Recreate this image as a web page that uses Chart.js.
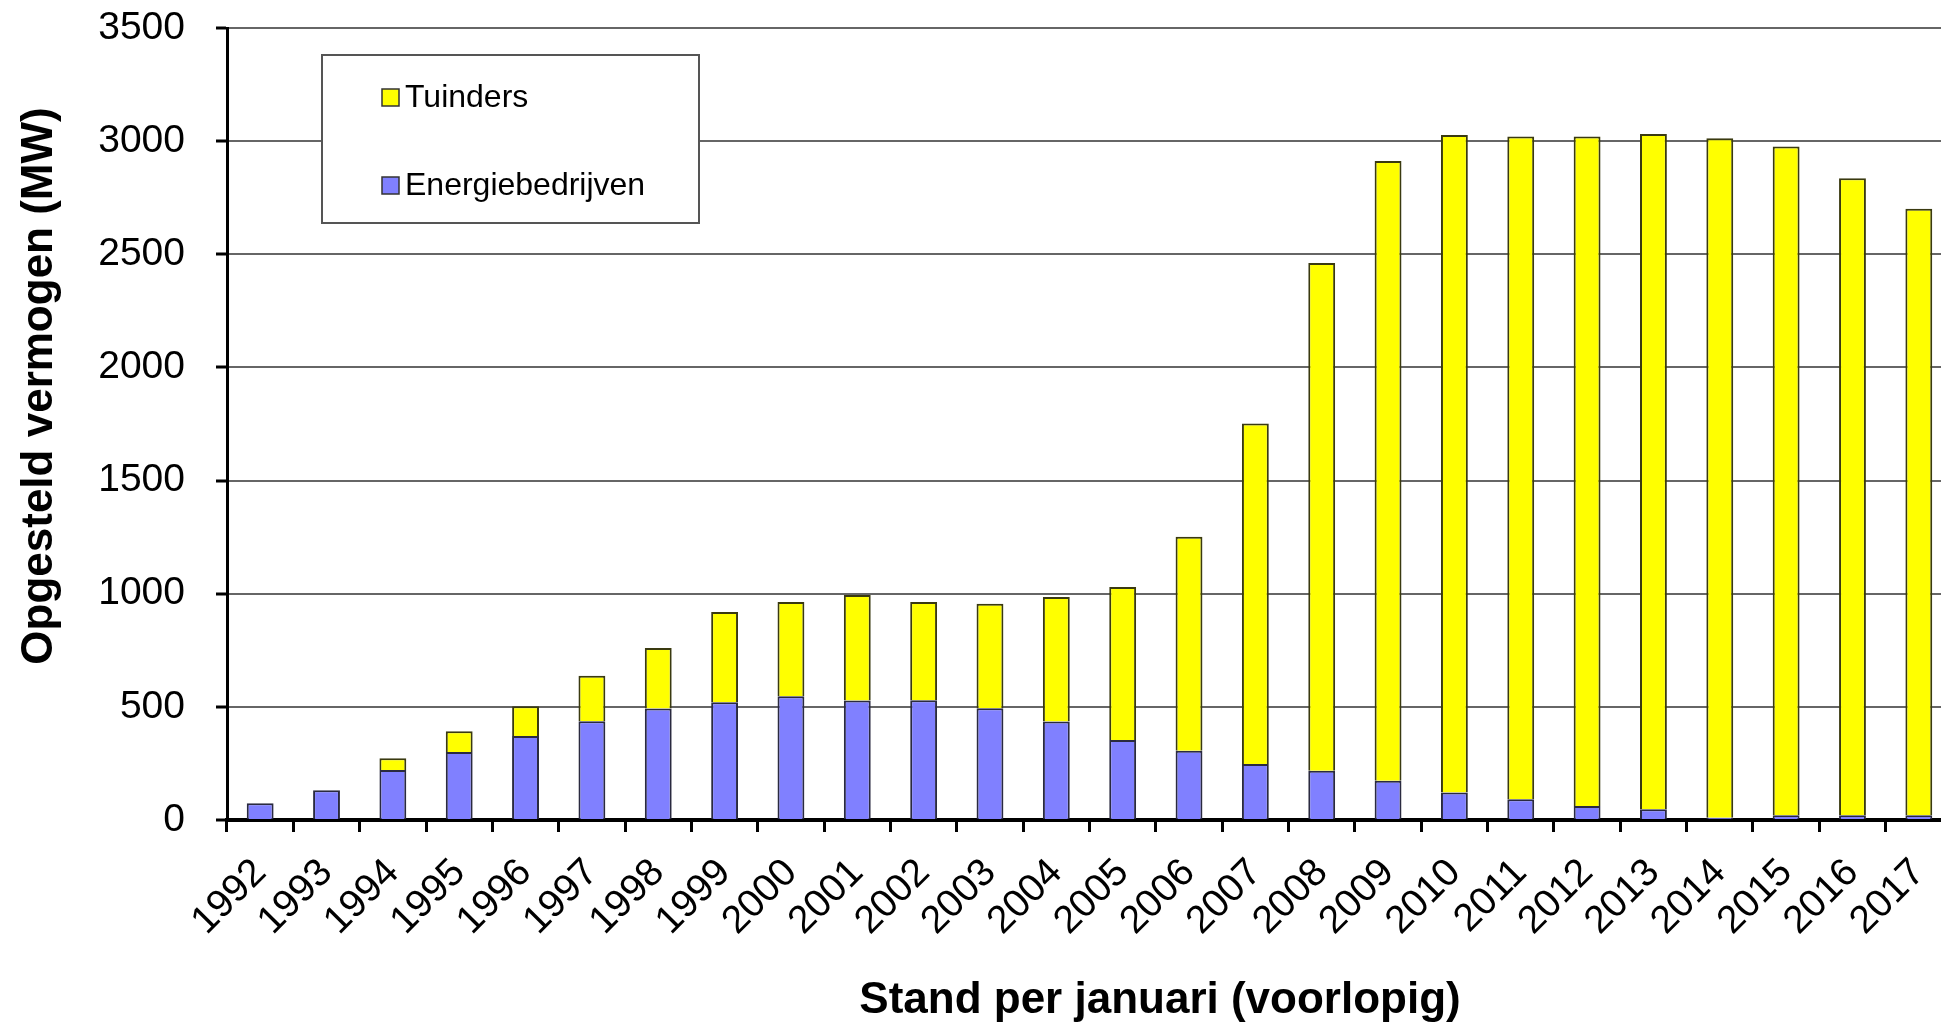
<!DOCTYPE html>
<html>
<head>
<meta charset="utf-8">
<script src="https://cdn.jsdelivr.net/npm/chart.js@4.4.1/dist/chart.umd.min.js"></script>
<style>
  html, body { margin: 0; padding: 0; background: #fff; overflow: hidden; }
  #wrap { position: absolute; left: 0; top: 0; width: 1952px; height: 1028px; }
</style>
</head>
<body>
<div id="wrap"><canvas id="chart"></canvas></div>
<script>
// stand per januari
const years = ["1992", "1993", "1994", "1995", "1996", "1997", "1998", "1999", "2000",
  "2001", "2002", "2003", "2004", "2005", "2006", "2007", "2008", "2009", "2010",
  "2011", "2012", "2013", "2014", "2015", "2016", "2017"];

// MW
const energiebedrijven = [74, 132, 221, 300, 371, 436, 493, 520, 547, 528, 529, 494, 435,
  354, 306, 248, 218, 174, 122, 92, 62, 47, 10, 21, 21, 21];
const tuinders = [0, 0, 52, 92, 132, 201, 267, 399, 416, 466, 434, 462, 550, 676, 946,
  1504, 2244, 2738, 2905, 2928, 2958, 2985, 3003, 2955, 2815, 2680];

const yTicks = [0, 500, 1000, 1500, 2000, 2500, 3000, 3500];

const yTitle = "Opgesteld vermogen (MW)";
const xTitle = "Stand per januari (voorlopig)";

const FONT = "'Liberation Sans', Arial, sans-serif";

// legend box inside the plot, Tuinders on top
const legendBox = {
  id: "legendBox",
  afterDraw(chart) {
    const ctx = chart.ctx;
    ctx.save();
    ctx.fillStyle = "#fff";
    ctx.strokeStyle = "#555";
    ctx.lineWidth = 2;
    ctx.fillRect(322, 55, 377, 168);
    ctx.strokeRect(322, 55, 377, 168);

    const items = [chart.data.datasets[1], chart.data.datasets[0]];
    const rows = [97, 185];
    ctx.font = "32px " + FONT;
    ctx.textBaseline = "middle";
    items.forEach((ds, i) => {
      const y = rows[i];
      ctx.fillStyle = ds.backgroundColor;
      ctx.fillRect(382, y - 8, 17, 17);
      ctx.strokeStyle = "#333";
      ctx.lineWidth = 1.5;
      ctx.strokeRect(382, y - 8, 17, 17);
      ctx.fillStyle = "#000";
      ctx.fillText(ds.label, 405, y + 1);
    });
    ctx.restore();
  }
};

// axis titles (placed like the original, not centred on the plot)
const axisTitles = {
  id: "axisTitles",
  afterDraw(chart) {
    const ctx = chart.ctx;
    ctx.save();
    ctx.fillStyle = "#000";
    ctx.font = "bold 44px " + FONT;
    ctx.textAlign = "center";
    ctx.textBaseline = "alphabetic";
    ctx.fillText(xTitle, 1160, 1013);

    ctx.translate(52, 386);
    ctx.rotate(-Math.PI / 2);
    ctx.fillText(yTitle, 0, 0);
    ctx.restore();
  }
};

new Chart(document.getElementById("chart"), {
  type: "bar",
  data: {
    labels: years,
    datasets: [
      {
        label: "Energiebedrijven",
        data: energiebedrijven,
        backgroundColor: "#8080ff",
        borderColor: "#2a2a40",
        borderWidth: 2,
        barPercentage: 0.405,
        categoryPercentage: 1
      },
      {
        label: "Tuinders",
        data: tuinders,
        backgroundColor: "#ffff00",
        borderColor: "#3a3a10",
        borderWidth: 2,
        barPercentage: 0.405,
        categoryPercentage: 1
      }
    ]
  },
  options: {
    responsive: true,
    maintainAspectRatio: false,
    animation: false,
    layout: { padding: { top: 28, left: 0, right: 0, bottom: 0 } },
    plugins: {
      legend: { display: false },
      tooltip: { enabled: false }
    },
    scales: {
      x: {
        stacked: true,
        afterFit: (s) => {
          s.height = 208;
          s.paddingLeft = 0;
          s.paddingRight = 0;
        },
        border: { display: true, color: "#000", width: 4 },
        grid: {
          display: true,
          offset: true,
          drawOnChartArea: false,
          tickLength: 12,
          tickColor: "#000",
          tickWidth: 3
        },
        ticks: {
          autoSkip: false,
          minRotation: 45,
          maxRotation: 45,
          padding: 18,
          color: "#000",
          font: { family: FONT, size: 39 }
        }
      },
      y: {
        stacked: true,
        min: 0,
        max: 3500,
        afterFit: (s) => {
          s.width = 227;
          s.paddingTop = 0;
          s.paddingBottom = 0;
        },
        afterBuildTicks: (s) => { s.ticks = yTicks.map(v => ({ value: v })); },
        border: { display: true, color: "#000", width: 3 },
        grid: {
          color: "#666",
          lineWidth: 2,
          tickLength: 11,
          tickColor: "#000",
          tickWidth: 3
        },
        ticks: {
          padding: 31,
          color: "#000",
          font: { family: FONT, size: 39 },
          callback: (v) => String(v)
        }
      }
    }
  },
  plugins: [legendBox, axisTitles]
});
</script>
</body>
</html>
